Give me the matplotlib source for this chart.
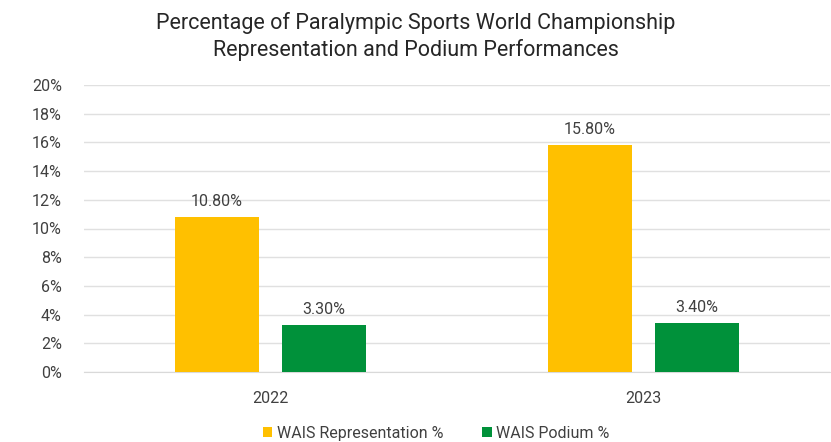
import numpy as np
import matplotlib.pyplot as plt
from matplotlib.ticker import FuncFormatter

plt.rcParams['font.family'] = ['Roboto', 'DejaVu Sans']

years = ['2022', '2023']
representation = [10.8, 15.8]
podium = [3.3, 3.4]
series_names = ['WAIS Representation %', 'WAIS Podium %']
colors = ['#FFC000', '#00913A']
text_col = '#404040'

fig = plt.figure(figsize=(8.31, 4.42), dpi=100)
ax = fig.add_axes([84/831, 1-372/442, 746/831, 287/442])

x = np.arange(len(years))
w = 0.223
off = 0.1435
b1 = ax.bar(x - off, representation, w, color=colors[0], label=series_names[0], zorder=3)
b2 = ax.bar(x + off, podium, w, color=colors[1], label=series_names[1], zorder=3)

# value labels above bars
for bars, vals in [(b1, representation), (b2, podium)]:
    for r, v in zip(bars, vals):
        ax.text(r.get_x() + r.get_width()/2, v + 0.55, f'{v:.2f}%', ha='center', va='bottom',
                fontsize=11.5, color=text_col)

ax.set_xlim(-0.5, 1.5)
ax.set_ylim(0, 20)
ax.set_yticks(np.arange(0, 21, 2))
ax.yaxis.set_major_formatter(FuncFormatter(lambda v, p: f'{v:.0f}%'))
ax.set_xticks(x)
ax.set_xticklabels(years)
ax.grid(axis='y', color='#E0E0E0', linewidth=1, zorder=0)
for s in ['top', 'right', 'left']:
    ax.spines[s].set_visible(False)
ax.spines['bottom'].set_color('#D9D9D9')
ax.tick_params(axis='both', length=0, labelsize=11.5, colors=text_col)
ax.tick_params(axis='y', pad=16)
ax.tick_params(axis='x', pad=14)

fig.suptitle('Percentage of Paralympic Sports World Championship\nRepresentation and Podium Performances',
             y=0.972, fontsize=15.5, color='#262626', linespacing=1.3)

fig.legend(loc='lower center', bbox_to_anchor=(0.525, -0.03), ncol=2, frameon=False,
           fontsize=11.5, handlelength=0.6, handleheight=0.6, handletextpad=0.3,
           columnspacing=2.4, labelcolor=text_col)

fig.savefig('out.png', dpi=100)
